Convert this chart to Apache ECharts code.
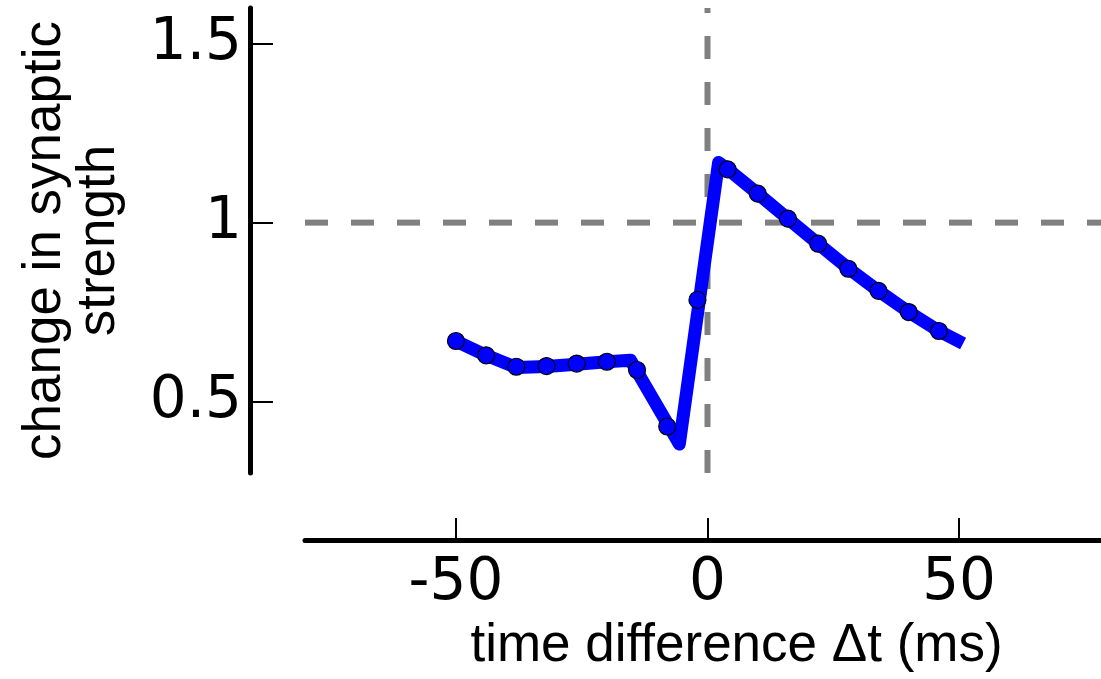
<!DOCTYPE html>
<html>
<head>
<meta charset="utf-8">
<script src="https://cdn.jsdelivr.net/npm/echarts@6/dist/echarts.min.js"></script>
<style>
html,body{margin:0;padding:0;background:#fff;overflow:hidden;}
#chart{width:1101px;height:679px;}
</style>
</head>
<body>
<div id="chart"></div>
<script>
// Measured points (circles)
var circleX = [-50, -44, -38, -32, -26, -20, -14, -8, -2, 4, 10, 16, 22, 28, 34, 40, 46];
var circleY = [0.669, 0.629, 0.597, 0.599, 0.606, 0.611, 0.588, 0.430, 0.784, 1.149, 1.081, 1.011, 0.941, 0.871, 0.809, 0.750, 0.697];
// Model curve (thick blue line)
var lineX = [-50, -44, -38, -32, -26, -20, -15.3, -5.6, 2.2, 4, 10, 16, 22, 28, 34, 40, 46, 50.8];
var lineY = [0.669, 0.629, 0.595, 0.598, 0.604, 0.611, 0.615, 0.381, 1.168, 1.150, 1.081, 1.011, 0.941, 0.872, 0.809, 0.750, 0.697, 0.662];
// Axis ticks and limits
var xTicks = [-50, 0, 50];
var yTicks = [0.5, 1, 1.5];
var xLim = [-80, 80];
var yLim = [0.3, 1.6];
// Reference lines
var refX = 0;
var refY = 1;

var chart = echarts.init(document.getElementById('chart'));
var lineData = lineX.map(function (x, i) { return [x, lineY[i]]; });
var circleData = circleX.map(function (x, i) { return [x, circleY[i]]; });
var dashStyle = { color: '#808080', width: 6, type: [23, 23] };

chart.setOption({
  animation: false,
  backgroundColor: '#ffffff',
  grid: { left: 305, width: 805, top: 8, height: 465, containLabel: false, outerBoundsMode: 'none' },
  xAxis: {
    type: 'value', min: xLim[0], max: xLim[1],
    offset: 67,
    splitLine: { show: false },
    axisLine: { show: true, onZero: false, lineStyle: { color: '#000', width: 5 } },
    axisTick: { show: true, inside: true, length: 22, lineStyle: { color: '#000', width: 2 }, customValues: xTicks },
    axisLabel: { customValues: xTicks, margin: 15, color: '#000', fontFamily: 'DejaVu Sans', fontSize: 58 },
    name: 'time difference \u0394t (ms)', nameLocation: 'middle', nameGap: 80,
    nameTextStyle: { fontFamily: 'Liberation Sans', fontSize: 53, color: '#000', padding: [0, 0, 0, 58] }
  },
  yAxis: {
    type: 'value', min: yLim[0], max: yLim[1],
    offset: 55,
    splitLine: { show: false },
    axisLine: { show: true, onZero: false, lineStyle: { color: '#000', width: 5 } },
    axisTick: { show: true, inside: true, length: 23, lineStyle: { color: '#000', width: 2 }, customValues: yTicks },
    axisLabel: { customValues: yTicks, margin: 8, color: '#000', fontFamily: 'DejaVu Sans', fontSize: 58,
      formatter: function (v) { return String(v); } },
    name: 'change in synaptic\nstrength', nameLocation: 'middle', nameRotate: 90, nameGap: 124,
    nameTextStyle: { fontFamily: 'Liberation Sans', fontSize: 53, color: '#000', lineHeight: 54, align: 'center' }
  },
  series: [
    { type: 'line', data: [[xLim[0], refY], [xLim[1], refY]], showSymbol: false, symbol: 'none',
      lineStyle: dashStyle, z: 1, silent: true },
    { type: 'line', data: [[refX, yLim[0]], [refX, yLim[1]]], showSymbol: false, symbol: 'none',
      lineStyle: dashStyle, z: 1, silent: true },
    { type: 'line', data: lineData, showSymbol: false, symbol: 'none',
      lineStyle: { color: '#0000ff', width: 13, join: 'round', cap: 'butt' }, z: 3 },
    { type: 'scatter', data: circleData, symbol: 'circle', symbolSize: 17,
      itemStyle: { color: '#0000ff', borderColor: '#000', borderWidth: 1.2, opacity: 1 }, z: 4 }
  ]
});
</script>
</body>
</html>
